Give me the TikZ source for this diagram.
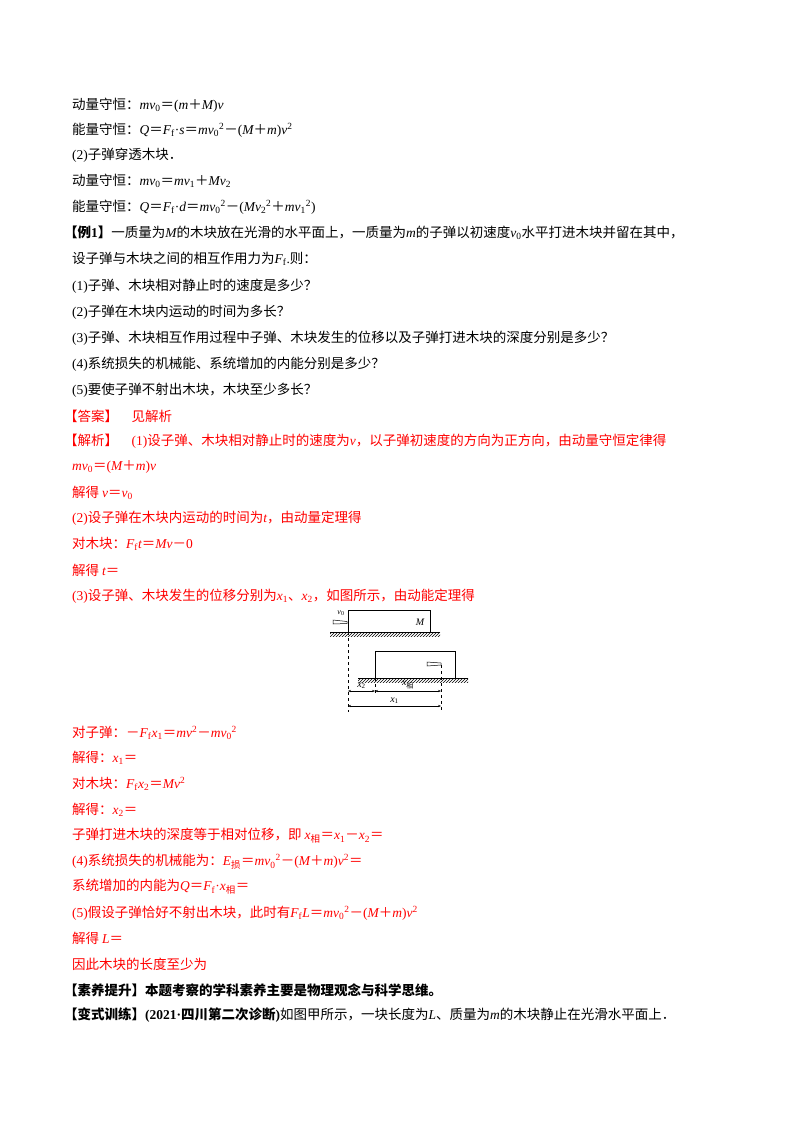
\documentclass[tikz,border=0pt]{standalone}
\usepackage{fontspec}
\setmainfont{Liberation Serif}
\newfontfamily\cjk{Noto Sans CJK SC}
\newfontfamily\lat{Liberation Serif}
\usetikzlibrary{patterns,arrows.meta}
\newcommand{\mi}[1]{{\lat\itshape #1}}
\newcommand{\rr}[1]{{\lat #1}}
\tikzset{ln/.style={anchor=west,inner sep=0pt,font=\cjk\fontsize{13.5}{16}\selectfont},
 rd/.style={ln,text=red},
 fig/.style={line width=0.5pt},
 flab/.style={inner sep=0pt,font=\lat\itshape\fontsize{10}{11}\selectfont},
 dim/.style={line width=0.4pt,{Stealth[length=3pt]}-{Stealth[length=3pt]}}}
\begin{document}
\begin{tikzpicture}[x=1pt,y=-1pt]
\useasboundingbox[fill=white] (0,0) rectangle (800,1132);
\node[ln] (l1) at (72,105) {动量守恒：\mi{mv}\rr{\textsubscript{0}}＝\rr{(}\mi{m}＋\mi{M}\rr{)}\mi{v}};
\node[ln] (l2) at (72,130) {能量守恒：\mi{Q}＝\mi{F}\rr{\textsubscript{f}·}\mi{s}＝\mi{mv}\rr{\textsubscript{0}\textsuperscript{2}}－\rr{(}\mi{M}＋\mi{m}\rr{)}\mi{v}\rr{\textsuperscript{2}}};
\node[ln] (l3) at (72,155) {\rr{(2)}子弹穿透木块．};
\node[ln] (l4) at (72,181) {动量守恒：\mi{mv}\rr{\textsubscript{0}}＝\mi{mv}\rr{\textsubscript{1}}＋\mi{Mv}\rr{\textsubscript{2}}};
\node[ln] (l5) at (72,207) {能量守恒：\mi{Q}＝\mi{F}\rr{\textsubscript{f}·}\mi{d}＝\mi{mv}\rr{\textsubscript{0}\textsuperscript{2}}－\rr{(}\mi{Mv}\rr{\textsubscript{2}\textsuperscript{2}}＋\mi{mv}\rr{\textsubscript{1}\textsuperscript{2})}};
\node[ln] (l6) at (64,233) {\textbf{【例\rr{\bfseries 1}】}一质量为\mi{M}的木块放在光滑的水平面上，一质量为\mi{m}的子弹以初速度\mi{v}\rr{\textsubscript{0}}水平打进木块并留在其中，};
\node[ln] (l7) at (72,259) {设子弹与木块之间的相互作用力为\mi{F}\rr{\textsubscript{f}.}则：};
\node[ln] (l8) at (72,286) {\rr{(1)}子弹、木块相对静止时的速度是多少？};
\node[ln] (l9) at (72,312) {\rr{(2)}子弹在木块内运动的时间为多长？};
\node[ln] (l10) at (72,338) {\rr{(3)}子弹、木块相互作用过程中子弹、木块发生的位移以及子弹打进木块的深度分别是多少？};
\node[ln] (l11) at (72,364) {\rr{(4)}系统损失的机械能、系统增加的内能分别是多少？};
\node[ln] (l12) at (72,390) {\rr{(5)}要使子弹不射出木块，木块至少多长？};
\node[rd] (l13) at (64,416) {【答案】\quad 见解析};
\node[rd] (l14) at (64,441) {【解析】\quad \rr{(1)}设子弹、木块相对静止时的速度为\mi{v}，以子弹初速度的方向为正方向，由动量守恒定律得};
\node[rd] (l15) at (72,467) {\mi{mv}\rr{\textsubscript{0}}＝\rr{(}\mi{M}＋\mi{m}\rr{)}\mi{v}};
\node[rd] (l16) at (72,493) {解得 \mi{v}＝\mi{v}\rr{\textsubscript{0}}};
\node[rd] (l17) at (72,518) {\rr{(2)}设子弹在木块内运动的时间为\mi{t}，由动量定理得};
\node[rd] (l18) at (72,544) {对木块：\mi{F}\rr{\textsubscript{f}}\mi{t}＝\mi{Mv}－\rr{0}};
\node[rd] (l19) at (72,570) {解得 \mi{t}＝};
\node[rd] (l20) at (72,596) {\rr{(3)}设子弹、木块发生的位移分别为\mi{x}\rr{\textsubscript{1}}、\mi{x}\rr{\textsubscript{2}}，如图所示，由动能定理得};
% figure
\fill[pattern=north east lines] (330,632) rectangle (440,636);
\draw[fig] (330,632) -- (440,632);
\draw[fig] (348,632) rectangle (430,610);
\node[flab] (M) at (420,622) {M};
\node[flab,font=\lat\itshape\fontsize{8}{9}\selectfont] (v0) at (341,613) {v\textsubscript{\upshape 0}};
\draw[fig] (333,620) -- (347,621.5) -- (347,623.5) -- (333,624) -- cycle;
\fill[pattern=north east lines] (358,678) rectangle (468,682);
\draw[fig] (358,678) -- (468,678);
\draw[fig] (375,678) rectangle (455,651);
\draw[fig] (427,662) -- (441,663) -- (441,665) -- (427,666) -- cycle;
\draw[fig,dashed] (348,632) -- (348,712);
\draw[fig,dashed] (375,678) -- (375,696);
\draw[fig,dashed] (441,665) -- (441,712);
\coordinate (a1) at (348,691); \coordinate (a2) at (375,691); \coordinate (a3) at (441,691);
\coordinate (b1) at (348,706); \coordinate (b3) at (441,706);
\draw[dim] (a1) -- node[flab,above=2pt] {x\textsubscript{\upshape 2}} (a2);
\draw[dim] (a2) -- node[flab,above=2pt] {x\textsubscript{\cjk 相}} (a3);
\draw[dim] (b1) -- node[flab,above=2pt] {x\textsubscript{\upshape 1}} (b3);
\node[rd] (l21) at (72,733) {对子弹：－\mi{F}\rr{\textsubscript{f}}\mi{x}\rr{\textsubscript{1}}＝\mi{mv}\rr{\textsuperscript{2}}－\mi{mv}\rr{\textsubscript{0}\textsuperscript{2}}};
\node[rd] (l22) at (72,758) {解得：\mi{x}\rr{\textsubscript{1}}＝};
\node[rd] (l23) at (72,784) {对木块：\mi{F}\rr{\textsubscript{f}}\mi{x}\rr{\textsubscript{2}}＝\mi{Mv}\rr{\textsuperscript{2}}};
\node[rd] (l24) at (72,810) {解得：\mi{x}\rr{\textsubscript{2}}＝};
\node[rd] (l25) at (72,836) {子弹打进木块的深度等于相对位移，即 \mi{x}\textsubscript{相}＝\mi{x}\rr{\textsubscript{1}}－\mi{x}\rr{\textsubscript{2}}＝};
\node[rd] (l26) at (72,862) {\rr{(4)}系统损失的机械能为：\mi{E}\textsubscript{损}＝\mi{mv}\rr{\textsubscript{0}\textsuperscript{2}}－\rr{(}\mi{M}＋\mi{m}\rr{)}\mi{v}\rr{\textsuperscript{2}}＝};
\node[rd] (l27) at (72,887) {系统增加的内能为\mi{Q}＝\mi{F}\rr{\textsubscript{f}·}\mi{x}\textsubscript{相}＝};
\node[rd] (l28) at (72,913) {\rr{(5)}假设子弹恰好不射出木块，此时有\mi{F}\rr{\textsubscript{f}}\mi{L}＝\mi{mv}\rr{\textsubscript{0}\textsuperscript{2}}－\rr{(}\mi{M}＋\mi{m}\rr{)}\mi{v}\rr{\textsuperscript{2}}};
\node[rd] (l29) at (72,938) {解得 \mi{L}＝};
\node[rd] (l30) at (72,964) {因此木块的长度至少为};
\node[ln,font=\cjk\bfseries\fontsize{13.5}{16}\selectfont] (l31) at (64,990) {【素养提升】本题考察的学科素养主要是物理观念与科学思维。};
\node[ln] (l32) at (64,1015) {\textbf{【变式训练】\rr{\bfseries (2021·}四川第二次诊断\rr{\bfseries )}}如图甲所示，一块长度为\mi{L}、质量为\mi{m}的木块静止在光滑水平面上．};
\end{tikzpicture}
\end{document}
